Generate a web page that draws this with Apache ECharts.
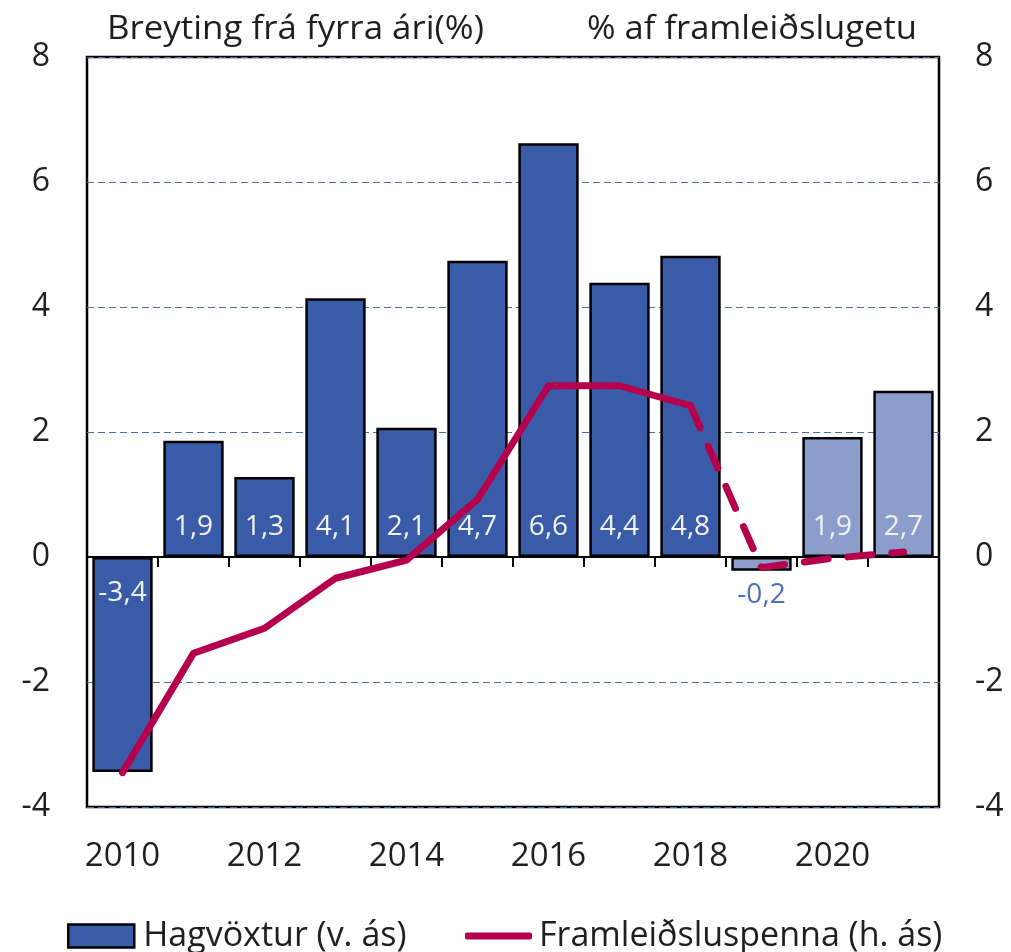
<!DOCTYPE html>
<html>
<head>
<meta charset="utf-8">
<script src="https://cdn.jsdelivr.net/npm/echarts@6/dist/echarts.min.js"></script>
<style>
html,body{margin:0;padding:0;background:#fff;}
#chart{width:1011px;height:952px;}
</style>
</head>
<body>
<div id="chart"></div>
<script>
const years = ['2010','2011','2012','2013','2014','2015','2016','2017','2018','2019','2020','2021'];
const growth = [-3.44, 1.86, 1.28, 4.14, 2.07, 4.74, 6.62, 4.39, 4.82, -0.22, 1.92, 2.66];
const outputGap = [-3.45, -1.54, -1.14, -0.34, -0.05, 0.92, 2.74, 2.74, 2.42, -0.17, -0.02, 0.08];
const forecastFrom = 9;      // bars from this index are lighter (forecast)
const gapDashedFrom = 8;     // line is dashed from this index on
const leftTitle = 'Breyting frá fyrra ári(%)';
const rightTitle = '% af framleiðslugetu';
const legendBar = 'Hagvöxtur (v. ás)';
const legendLine = 'Framleiðsluspenna (h. ás)';
const yTicks = {min: -4, max: 8, interval: 2};

const FONT = '"Open Sans", "Noto Sans", sans-serif';
const DARK = '#3A5BA7', LIGHT = '#8B9ECB', LINE = '#B5004E', TXT = '#1f1f1f';

const barData = growth.map((v, i) => {
  const d = {value: v, itemStyle: {color: i >= forecastFrom ? LIGHT : DARK}};
  if (v < 0 && Math.abs(v) < 1) {
    d.label = {position: 'bottom', color: '#4A70BE', distance: 10};
  } else if (v < 0) {
    d.label = {position: 'insideTop', distance: 22};
  }
  return d;
});
const solidLine = outputGap.map((v, i) => i <= gapDashedFrom ? v : null);
const dashedLine = outputGap.map((v, i) => i >= gapDashedFrom ? v : null);

const chart = echarts.init(document.getElementById('chart'));
chart.setOption({
  animation: false,
  textStyle: {fontFamily: FONT},
  grid: {left: 87, right: 72, top: 57, bottom: 145, show: true, borderColor: '#000', borderWidth: 2.5, backgroundColor: 'transparent'},
  graphic: [
    {type: 'text', x: 107, y: 30, scaleX: 1.09, originX: 0, originY: 0,
     style: {text: leftTitle, font: '32px ' + FONT, fill: TXT, textAlign: 'left', textVerticalAlign: 'middle'}},
    {type: 'text', x: 917, y: 30, scaleX: 1.08, originX: 0, originY: 0,
     style: {text: rightTitle, font: '32px ' + FONT, fill: TXT, textAlign: 'right', textVerticalAlign: 'middle'}}
  ],
  legend: [
    {data: [legendBar], left: 62, top: 914, itemWidth: 66, itemHeight: 23, icon: 'rect',
     itemStyle: {borderColor: '#000', borderWidth: 2.5},
     textStyle: {fontSize: 34, color: TXT, fontFamily: FONT, padding: [0, 0, 0, 4]}},
    {data: [legendLine], left: 460, top: 914, itemWidth: 67, itemHeight: 7, icon: 'roundRect',
     itemStyle: {color: LINE, borderWidth: 0},
     textStyle: {fontSize: 34, color: TXT, fontFamily: FONT, padding: [0, 0, 0, 2]}}
  ],
  xAxis: [
    {type: 'category', data: years, position: 'bottom',
     axisLine: {show: true, onZero: true, lineStyle: {color: '#000', width: 2}},
     axisTick: {show: true, interval: 0, length: 10, lineStyle: {color: '#000', width: 2}},
     axisLabel: {show: false}, splitLine: {show: false}},
    {type: 'category', data: years, position: 'bottom',
     axisLine: {show: false}, axisTick: {show: false},
     axisLabel: {show: true, interval: 1, margin: 33, fontSize: 33, color: TXT, fontFamily: FONT}}
  ],
  yAxis: [
    {type: 'value', min: yTicks.min, max: yTicks.max, interval: yTicks.interval, position: 'left',
     axisLine: {show: false}, axisTick: {show: false},
     axisLabel: {margin: 37, fontSize: 32, color: TXT, fontFamily: FONT},
     splitLine: {show: true, lineStyle: {color: '#4A6FA5', width: 1, type: [7, 4]}}},
    {type: 'value', min: yTicks.min, max: yTicks.max, interval: yTicks.interval, position: 'right',
     axisLine: {show: false}, axisTick: {show: false},
     axisLabel: {margin: 36, fontSize: 32, color: TXT, fontFamily: FONT},
     splitLine: {show: false}}
  ],
  series: [
    {name: legendBar, type: 'bar', xAxisIndex: 0, yAxisIndex: 0, data: barData,
     barCategoryGap: '15%',
     itemStyle: {color: DARK, borderColor: '#000', borderWidth: 2.5},
     label: {show: true, position: 'insideBottom', distance: 16, fontSize: 28, color: '#F2F2F2', fontFamily: FONT,
       formatter: p => p.value.toFixed(1).replace('.', ',')},
     z: 2},
    {name: legendLine, type: 'line', xAxisIndex: 0, yAxisIndex: 1, data: solidLine,
     symbol: 'none', connectNulls: false,
     lineStyle: {color: LINE, width: 7, cap: 'round', join: 'round'}, itemStyle: {color: LINE}, z: 5},
    {name: 'dashed', type: 'line', xAxisIndex: 0, yAxisIndex: 1, data: dashedLine,
     symbol: 'none', connectNulls: false,
     lineStyle: {color: LINE, width: 7, type: [24, 20], cap: 'round'}, itemStyle: {color: LINE}, z: 5}
  ]
});
</script>
</body>
</html>
